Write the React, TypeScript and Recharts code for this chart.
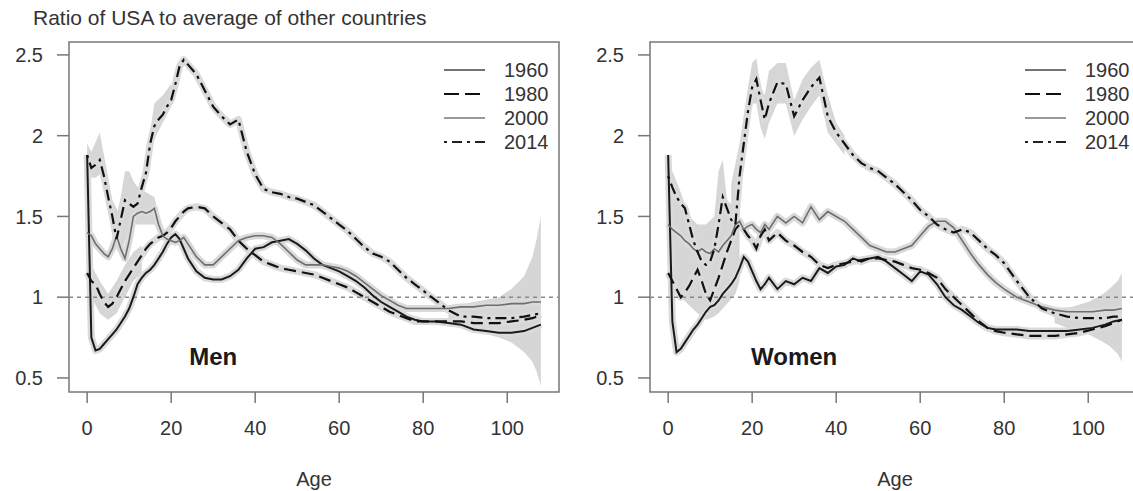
import React from 'react'
import {
  ComposedChart,
  Line,
  Area,
  XAxis,
  YAxis,
  ReferenceLine,
  ReferenceArea,
  ReferenceDot,
  Legend
} from 'recharts'

// ages shared by all series (yearly to 24, then every 2, then every 3)
const ages = [
  0, 1, 2, 3, 4, 5, 6, 7, 8, 9,
  10, 11, 12, 13, 14, 15, 16, 17, 18, 19,
  20, 21, 22, 23, 24, 26, 28, 30, 32, 34,
  36, 38, 40, 42, 44, 46, 48, 50, 52, 54,
  56, 58, 60, 62, 64, 66, 68, 70, 72, 74,
  76, 78, 80, 83, 86, 89, 92, 95, 98, 101,
  104, 106, 108
]

const men1960 = [
  1.88, 0.75, 0.67, 0.68, 0.71, 0.74, 0.77, 0.80, 0.84, 0.88,
  0.93, 1.00, 1.08, 1.12, 1.15, 1.17, 1.20, 1.24, 1.28, 1.33,
  1.37, 1.39, 1.36, 1.30, 1.24, 1.16, 1.12, 1.11, 1.11, 1.13,
  1.17, 1.24, 1.30, 1.31, 1.34, 1.35, 1.36, 1.33, 1.29, 1.24,
  1.20, 1.18, 1.16, 1.13, 1.10, 1.06, 1.01, 0.97, 0.94, 0.91,
  0.88, 0.86, 0.85, 0.85, 0.84, 0.83, 0.80, 0.79, 0.78, 0.78,
  0.79, 0.81, 0.83
]
const men1980 = [
  1.15, 1.10, 1.08, 1.02, 0.97, 0.94, 0.96, 1.00, 1.05, 1.10,
  1.14, 1.18, 1.22, 1.26, 1.30, 1.33, 1.35, 1.37, 1.38, 1.40,
  1.43, 1.47, 1.50, 1.53, 1.55, 1.56, 1.55, 1.50, 1.46, 1.42,
  1.35, 1.30, 1.26, 1.22, 1.20, 1.18, 1.17, 1.16, 1.15, 1.14,
  1.12, 1.10, 1.08, 1.06, 1.03, 1.00, 0.97, 0.94, 0.91, 0.89,
  0.87, 0.85, 0.85, 0.85, 0.85, 0.85, 0.84, 0.84, 0.84, 0.85,
  0.86, 0.87, 0.89
]
const men2000 = [
  1.40, 1.38, 1.33, 1.30, 1.27, 1.25, 1.30, 1.38, 1.30, 1.24,
  1.35, 1.50, 1.52, 1.53, 1.52, 1.53, 1.55, 1.45, 1.38, 1.36,
  1.35, 1.34, 1.35, 1.37, 1.33, 1.25, 1.20, 1.20, 1.25, 1.30,
  1.35, 1.37, 1.38, 1.38, 1.37, 1.33, 1.28, 1.23, 1.20, 1.20,
  1.20, 1.19, 1.18, 1.16, 1.13, 1.09, 1.05, 1.01, 0.98, 0.95,
  0.93, 0.93, 0.93, 0.93, 0.93, 0.94, 0.94, 0.95, 0.95, 0.96,
  0.96, 0.97, 0.97
]
const men2014 = [
  1.88, 1.80, 1.82, 1.85, 1.75, 1.62, 1.50, 1.36, 1.48, 1.60,
  1.58, 1.56, 1.58, 1.68, 1.77, 1.95, 2.06, 2.10, 2.13, 2.18,
  2.22, 2.32, 2.43, 2.47, 2.44, 2.38, 2.28, 2.18, 2.12, 2.07,
  2.10, 1.90, 1.76, 1.67, 1.65, 1.64, 1.62, 1.61, 1.59, 1.57,
  1.53, 1.49, 1.45, 1.41, 1.36, 1.31, 1.27, 1.25, 1.22, 1.17,
  1.12, 1.08, 1.04, 0.98, 0.92, 0.88, 0.88, 0.87, 0.87, 0.87,
  0.88, 0.89, 0.90
]

const women1960 = [
  1.88, 0.85, 0.66, 0.68, 0.72, 0.76, 0.80, 0.83, 0.87, 0.91,
  0.94, 0.95, 0.98, 1.02, 1.05, 1.08, 1.12, 1.18, 1.25, 1.22,
  1.16, 1.10, 1.05, 1.08, 1.12, 1.05, 1.10, 1.08, 1.12, 1.10,
  1.18, 1.15, 1.19, 1.20, 1.24, 1.22, 1.24, 1.25, 1.22, 1.18,
  1.14, 1.10, 1.16, 1.14, 1.08, 1.00, 0.95, 0.92, 0.88, 0.84,
  0.81, 0.80, 0.80, 0.80, 0.79, 0.79, 0.79, 0.79, 0.80, 0.81,
  0.83, 0.85, 0.86
]
const women1980 = [
  1.15, 1.10, 1.05, 1.00, 1.03, 1.07, 1.12, 1.17, 1.10, 1.02,
  0.98, 1.05, 1.12, 1.20, 1.28, 1.35, 1.42, 1.45, 1.42, 1.38,
  1.35, 1.30, 1.38, 1.42, 1.35, 1.40, 1.35, 1.32, 1.28, 1.25,
  1.20, 1.18, 1.20, 1.21, 1.22, 1.23, 1.24, 1.24, 1.23, 1.22,
  1.20, 1.18, 1.17, 1.15, 1.12, 1.05, 1.00, 0.95, 0.90, 0.85,
  0.81, 0.79, 0.78, 0.77, 0.76, 0.76, 0.76, 0.77, 0.78, 0.80,
  0.82, 0.84, 0.86
]
const women2000 = [
  1.45, 1.42, 1.40, 1.38, 1.35, 1.33, 1.30, 1.28, 1.30, 1.28,
  1.27, 1.30, 1.28, 1.32, 1.35, 1.38, 1.45, 1.47, 1.42, 1.44,
  1.45, 1.42, 1.40, 1.45, 1.42, 1.50, 1.46, 1.50, 1.46, 1.56,
  1.48, 1.53, 1.50, 1.47, 1.42, 1.37, 1.32, 1.30, 1.28, 1.28,
  1.30, 1.32, 1.38, 1.44, 1.47, 1.47, 1.43, 1.35, 1.27, 1.20,
  1.14, 1.09, 1.05, 1.00, 0.97, 0.94, 0.92, 0.91, 0.91, 0.91,
  0.92, 0.92, 0.93
]
const women2014 = [
  1.75, 1.68, 1.62, 1.58, 1.55, 1.45, 1.35, 1.28, 1.22, 1.20,
  1.22, 1.30, 1.45, 1.62, 1.55, 1.48, 1.45, 1.75, 1.95, 2.15,
  2.30, 2.35, 2.22, 2.10, 2.20, 2.33, 2.32, 2.12, 2.22, 2.30,
  2.36, 2.12, 2.02, 1.95, 1.88, 1.83, 1.80, 1.78, 1.74, 1.70,
  1.65, 1.60, 1.54, 1.50, 1.45, 1.42, 1.40, 1.42, 1.40, 1.35,
  1.30, 1.26, 1.21, 1.10, 1.00, 0.93, 0.90, 0.88, 0.87, 0.87,
  0.87, 0.88, 0.88
]

// grey confidence bands that are wider than the line halo
const menBandEarlyAges = [0, 1, 2, 3, 4, 6, 8]
const menBandEarlyLo = [1.78, 1.74, 1.74, 1.76, 1.66, 1.42, 1.30]
const menBandEarlyHi = [1.95, 1.90, 1.96, 2.02, 1.88, 1.60, 1.50]
const menBandChildAges = [7, 8, 9, 10, 11, 12, 14, 16, 17]
const menBandChildLo = [1.30, 1.25, 1.35, 1.40, 1.45, 1.45, 1.45, 1.45, 1.40]
const menBandChildHi = [1.50, 1.62, 1.78, 1.78, 1.72, 1.68, 1.65, 1.62, 1.52]
const menBandLowAges = [1, 3, 5, 7, 9, 11, 13]
const menBandLowLo = [1.00, 0.90, 0.86, 0.90, 1.00, 1.10, 1.15]
const menBandLowHi = [1.20, 1.10, 1.02, 1.10, 1.20, 1.28, 1.32]
const menBandTeenAges = [14, 16, 18, 20]
const menBandTeenLo = [1.70, 1.98, 2.08, 2.18]
const menBandTeenHi = [1.85, 2.20, 2.25, 2.32]
const menFanAges = [86, 90, 94, 98, 101, 104, 106, 107, 108]
const menFanLo = [0.84, 0.81, 0.78, 0.75, 0.72, 0.66, 0.60, 0.54, 0.45]
const menFanHi = [0.95, 0.96, 0.98, 1.00, 1.05, 1.13, 1.25, 1.36, 1.50]

const womenBandChildAges = [0, 1, 3, 5, 7, 9, 11, 12, 13, 14, 16, 17]
const womenBandChildLo = [1.20, 1.05, 1.00, 0.95, 0.90, 0.86, 0.88, 0.90, 0.93, 0.96, 1.02, 1.10]
const womenBandChildHi = [1.80, 1.78, 1.65, 1.50, 1.45, 1.45, 1.50, 1.78, 1.85, 1.60, 1.55, 1.60]
const womenBandPeakAges = [15, 17, 19, 20, 21, 22, 23, 24, 26, 28, 30, 32, 34, 36, 38, 40, 42]
const womenBandPeakLo = [1.40, 1.70, 2.05, 2.20, 2.20, 2.05, 1.98, 2.08, 2.20, 2.20, 2.00, 2.10, 2.18, 2.25, 2.02, 1.95, 1.88]
const womenBandPeakHi = [1.70, 1.95, 2.30, 2.45, 2.48, 2.30, 2.25, 2.40, 2.45, 2.45, 2.22, 2.35, 2.42, 2.47, 2.25, 2.08, 2.00]
const womenFanAges = [92, 96, 100, 103, 105, 107, 108]
const womenFanLo = [0.84, 0.80, 0.77, 0.73, 0.70, 0.65, 0.60]
const womenFanHi = [0.93, 0.94, 0.97, 1.01, 1.05, 1.10, 1.15]

const years = ['1960', '1980', '2000', '2014']
const xTicks = [0, 20, 40, 60, 80, 100]
const yTicks = [0.5, 1, 1.5, 2, 2.5]
const X_DOMAIN: [number, number] = [-4.32, 112.32]
const Y_DOMAIN: [number, number] = [0.413, 2.58]

const FONT = '"Liberation Sans", Arial, Helvetica, sans-serif'
const TICK_FONT = 20

const seriesStyle: Record<string, { stroke: string; width: number; dash?: string }> = {
  '1960': { stroke: '#1a1a1a', width: 2 },
  '1980': { stroke: '#111', width: 2.2, dash: '12 6' },
  '2000': { stroke: '#6e6e6e', width: 1.6 },
  '2014': { stroke: '#111', width: 2.2, dash: '3 5 11 5' }
}
// the legend samples are drawn a bit lighter than the curves
const legendStyle: Record<string, { stroke: string; width: number; dash?: string }> = {
  '1960': { stroke: '#444', width: 1.4 },
  '1980': { stroke: '#111', width: 2.2, dash: '15 6' },
  '2000': { stroke: '#777', width: 1.4 },
  '2014': { stroke: '#222', width: 2, dash: '3 5 10 5' }
}

type Band = { ages: number[]; lo: number[]; hi: number[] }

const buildRows = (s1960: number[], s1980: number[], s2000: number[], s2014: number[]) =>
  ages.map((age, i) => ({
    age,
    y1960: s1960[i],
    y1980: s1980[i],
    y2000: s2000[i],
    y2014: s2014[i]
  }))

const bandRows = (b: Band) => b.ages.map((age, i) => ({ age, band: [b.lo[i], b.hi[i]] }))

const menRows = buildRows(men1960, men1980, men2000, men2014)
const womenRows = buildRows(women1960, women1980, women2000, women2014)

const menBands: Band[] = [
  { ages: menBandEarlyAges, lo: menBandEarlyLo, hi: menBandEarlyHi },
  { ages: menBandChildAges, lo: menBandChildLo, hi: menBandChildHi },
  { ages: menBandLowAges, lo: menBandLowLo, hi: menBandLowHi },
  { ages: menBandTeenAges, lo: menBandTeenLo, hi: menBandTeenHi },
  { ages: menFanAges, lo: menFanLo, hi: menFanHi }
]
const womenBands: Band[] = [
  { ages: womenBandChildAges, lo: womenBandChildLo, hi: womenBandChildHi },
  { ages: womenBandPeakAges, lo: womenBandPeakLo, hi: womenBandPeakHi },
  { ages: womenFanAges, lo: womenFanLo, hi: womenFanHi }
]

// legend drawn like the R legend: short line sample, then the year
const LegendBox = () => (
  <svg width={130} height={100} style={{ fontFamily: FONT }}>
    {years.map((y, i) => {
      const s = legendStyle[y]
      const cy = 12 + i * 24
      return (
        <g key={y}>
          <line x1={4} x2={45} y1={cy} y2={cy} stroke={s.stroke} strokeWidth={s.width} strokeDasharray={s.dash} />
          <text x={64} y={cy} dominantBaseline="central" fontSize={TICK_FONT} fill="#333">{y}</text>
        </g>
      )
    })}
  </svg>
)

const axisGrey = '#777'

interface PanelProps {
  rows: ReturnType<typeof buildRows>
  bands: Band[]
  label: string
}

const Panel: React.FC<PanelProps> = ({ rows, bands, label }) => (
  <ComposedChart width={570} height={491} data={rows} margin={{ top: 42, right: 11, bottom: 0, left: 0 }}>
    <XAxis
      dataKey="age"
      type="number"
      domain={X_DOMAIN}
      ticks={xTicks}
      interval={0}
      allowDataOverflow
      height={99}
      tickSize={11}
      tickMargin={18}
      axisLine={false}
      tickLine={{ stroke: axisGrey, strokeWidth: 1.5 }}
      tick={{ fill: '#333', fontSize: TICK_FONT }}
      label={{ value: 'Age', position: 'insideBottom', offset: 5, fill: '#333', fontSize: TICK_FONT }}
    />
    <YAxis
      type="number"
      domain={Y_DOMAIN}
      ticks={yTicks}
      interval={0}
      allowDataOverflow
      width={69}
      tickSize={12}
      tickMargin={14}
      axisLine={false}
      tickLine={{ stroke: axisGrey, strokeWidth: 1.5 }}
      tick={{ fill: '#333', fontSize: TICK_FONT }}
    />
    {bands.map((b, i) => (
      <Area
        key={'band' + i}
        data={bandRows(b)}
        dataKey="band"
        type="linear"
        stroke="none"
        fill="#d6d6d6"
        fillOpacity={1}
        legendType="none"
        activeDot={false}
        isAnimationActive={false}
      />
    ))}
    {years.map(y => (
      <Line
        key={'halo' + y}
        dataKey={'y' + y}
        type="linear"
        stroke="#dadada"
        strokeWidth={7}
        strokeLinejoin="round"
        dot={false}
        activeDot={false}
        legendType="none"
        isAnimationActive={false}
      />
    ))}
    <ReferenceLine y={1} stroke="#8a8a8a" strokeWidth={1.5} strokeDasharray="4 4" />
    {years.map(y => {
      const s = seriesStyle[y]
      return (
        <Line
          key={y}
          dataKey={'y' + y}
          name={y}
          type="linear"
          stroke={s.stroke}
          strokeWidth={s.width}
          strokeDasharray={s.dash}
          dot={false}
          activeDot={false}
          isAnimationActive={false}
        />
      )
    })}
    <ReferenceArea
      x1={X_DOMAIN[0]}
      x2={X_DOMAIN[1]}
      y1={Y_DOMAIN[0]}
      y2={Y_DOMAIN[1]}
      fill="none"
      stroke={axisGrey}
      strokeWidth={1.5}
      ifOverflow="visible"
    />
    <ReferenceDot
      x={30}
      y={0.63}
      r={0}
      fill="none"
      stroke="none"
      label={{ value: label, position: 'center', fontSize: 24, fontWeight: 'bold', fill: '#1a1a1a' }}
    />
    <Legend
      layout="vertical"
      align="center"
      verticalAlign="middle"
      wrapperStyle={{ left: 440, top: 58, width: 130, height: 100 }}
      content={() => <LegendBox />}
    />
  </ComposedChart>
)

export default function App() {
  return (
    <div
      style={{
        position: 'absolute',
        left: 0,
        top: 0,
        width: 1133,
        height: 491,
        overflow: 'hidden',
        background: '#fff',
        fontFamily: FONT
      }}
    >
      <div style={{ position: 'absolute', left: 33, top: 6, fontSize: 21, lineHeight: '24px', color: '#333', whiteSpace: 'nowrap' }}>
        Ratio of USA to average of other countries
      </div>
      <div style={{ position: 'absolute', left: 0, top: 0 }}>
        <Panel rows={menRows} bands={menBands} label="Men" />
      </div>
      <div style={{ position: 'absolute', left: 581, top: 0 }}>
        <Panel rows={womenRows} bands={womenBands} label="Women" />
      </div>
    </div>
  )
}
